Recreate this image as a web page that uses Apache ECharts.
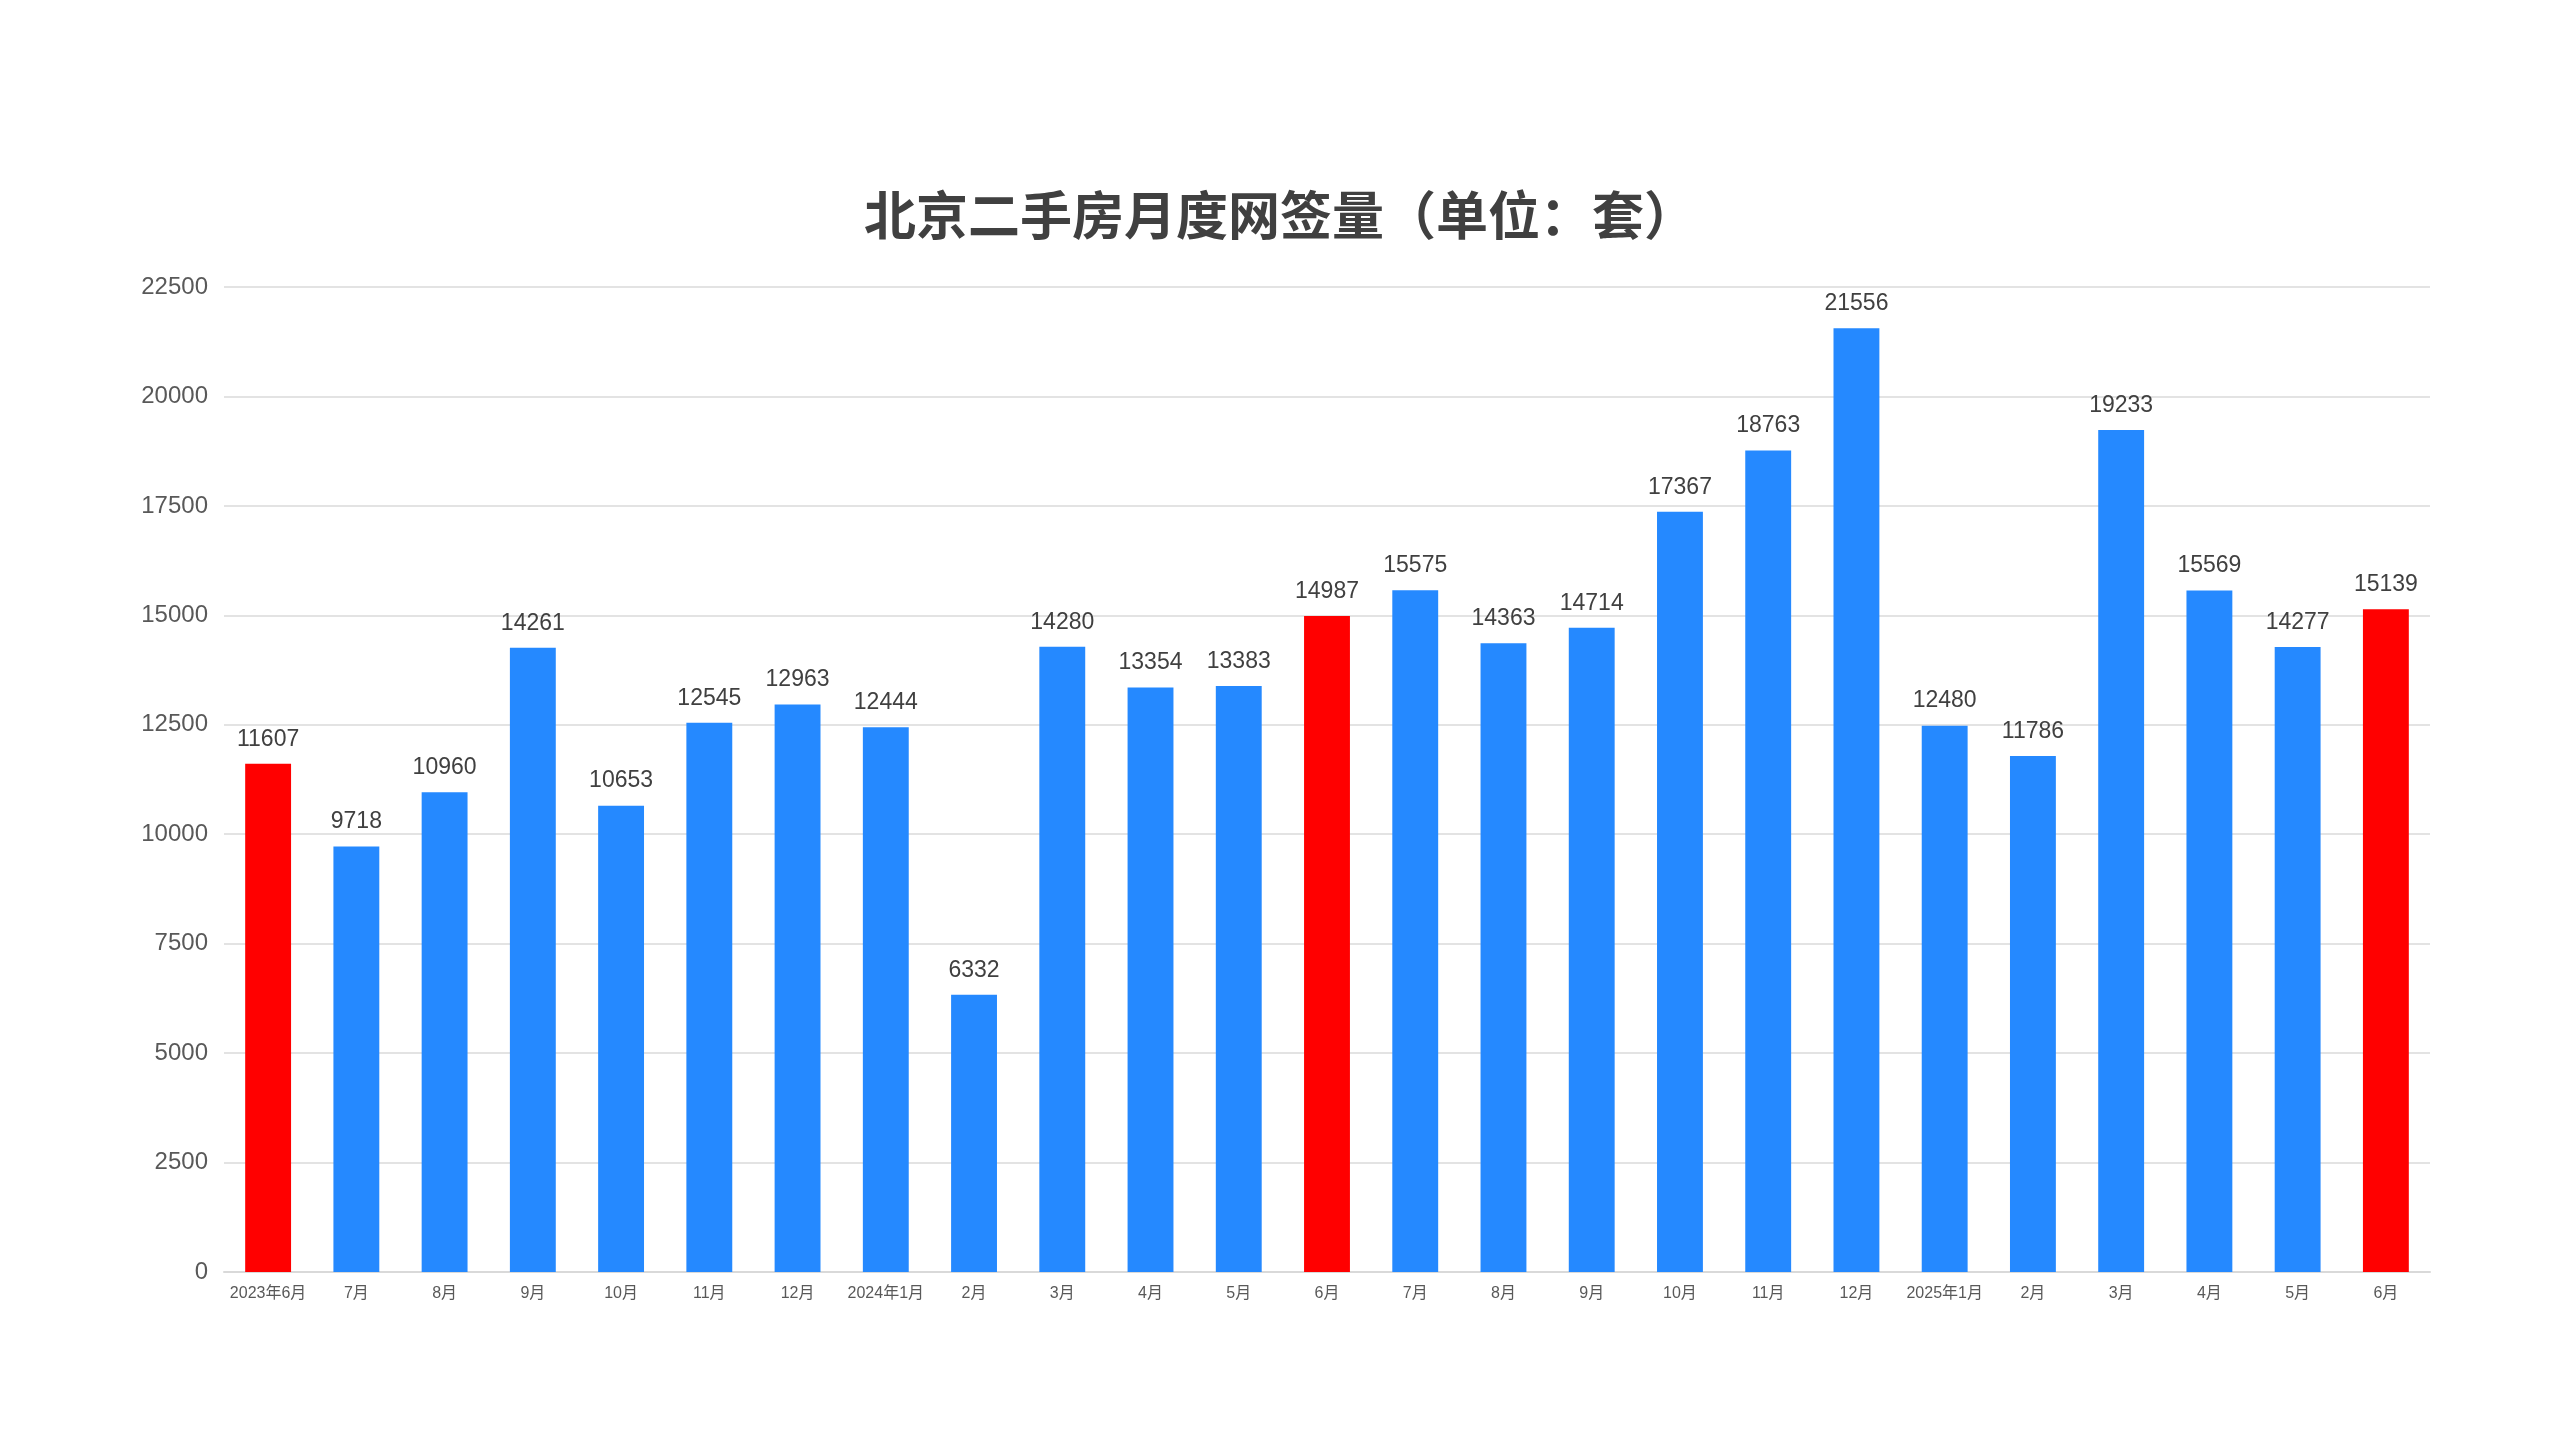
<!DOCTYPE html>
<html>
<head>
<meta charset="utf-8">
<title>北京二手房月度网签量</title>
<script src="https://cdn.jsdelivr.net/npm/echarts@6/dist/echarts.min.js"></script>
<style>
  html, body { margin: 0; padding: 0; background: #fff; }
  #main { width: 2560px; height: 1440px; }
</style>
</head>
<body>
<div id="main"></div>
<script>
    // 月份
    var months = ['2023年6月', '7月', '8月', '9月', '10月', '11月', '12月',
        '2024年1月', '2月', '3月', '4月', '5月', '6月', '7月', '8月', '9月', '10月', '11月', '12月',
        '2025年1月', '2月', '3月', '4月', '5月', '6月'];
    // 网签量（套）
    var counts = [11607, 9718, 10960, 14261, 10653, 12545, 12963,
        12444, 6332, 14280, 13354, 13383, 14987, 15575, 14363, 14714, 17367, 18763, 21556,
        12480, 11786, 19233, 15569, 14277, 15139];
    // 每年6月标红
    var highlight = ['2023年6月', '6月'];
    var yTicks = [0, 2500, 5000, 7500, 10000, 12500, 15000, 17500, 20000, 22500];

    var myChart = echarts.init(document.getElementById('main'));

    var barData = counts.map(function (v, i) {
        var red = highlight.indexOf(months[i]) >= 0;
        return {
            value: v,
            itemStyle: { color: red ? '#ff0000' : '#2589ff' }
        };
    });

    var option = {
        backgroundColor: '#ffffff',
        textStyle: { fontFamily: 'Liberation Sans, Arial, Noto Sans CJK SC, sans-serif' },
        title: {
            text: '北京二手房月度网签量（单位：套）',
            left: 'center',
            top: 184,
            textStyle: {
                fontSize: 52,
                fontWeight: 'bold',
                color: '#404040',
                fontFamily: 'Noto Sans CJK SC, sans-serif'
            }
        },
        grid: {
            left: 224,
            right: 130,
            top: 287,
            bottom: 168
        },
        xAxis: {
            type: 'category',
            data: months,
            axisLine: { lineStyle: { color: '#d9d9d9', width: 2 } },
            axisTick: { show: false },
            axisLabel: {
                color: '#595959',
                fontSize: 16,
                margin: 14,
                interval: 0
            }
        },
        yAxis: {
            type: 'value',
            min: yTicks[0],
            max: yTicks[yTicks.length - 1],
            interval: 2500,
            axisLine: { show: false },
            axisTick: { show: false },
            axisLabel: {
                color: '#595959',
                fontSize: 24,
                margin: 16,
                formatter: function (v) { return String(v); }
            },
            splitLine: { lineStyle: { color: '#e3e3e3', width: 2 } }
        },
        series: [{
            name: '网签量',
            type: 'bar',
            data: barData,
            barCategoryGap: '48%',
            label: {
                show: true,
                position: 'top',
                distance: 13,
                color: '#404040',
                fontSize: 23
            }
        }]
    };

    myChart.setOption(option);
</script>
</body>
</html>
